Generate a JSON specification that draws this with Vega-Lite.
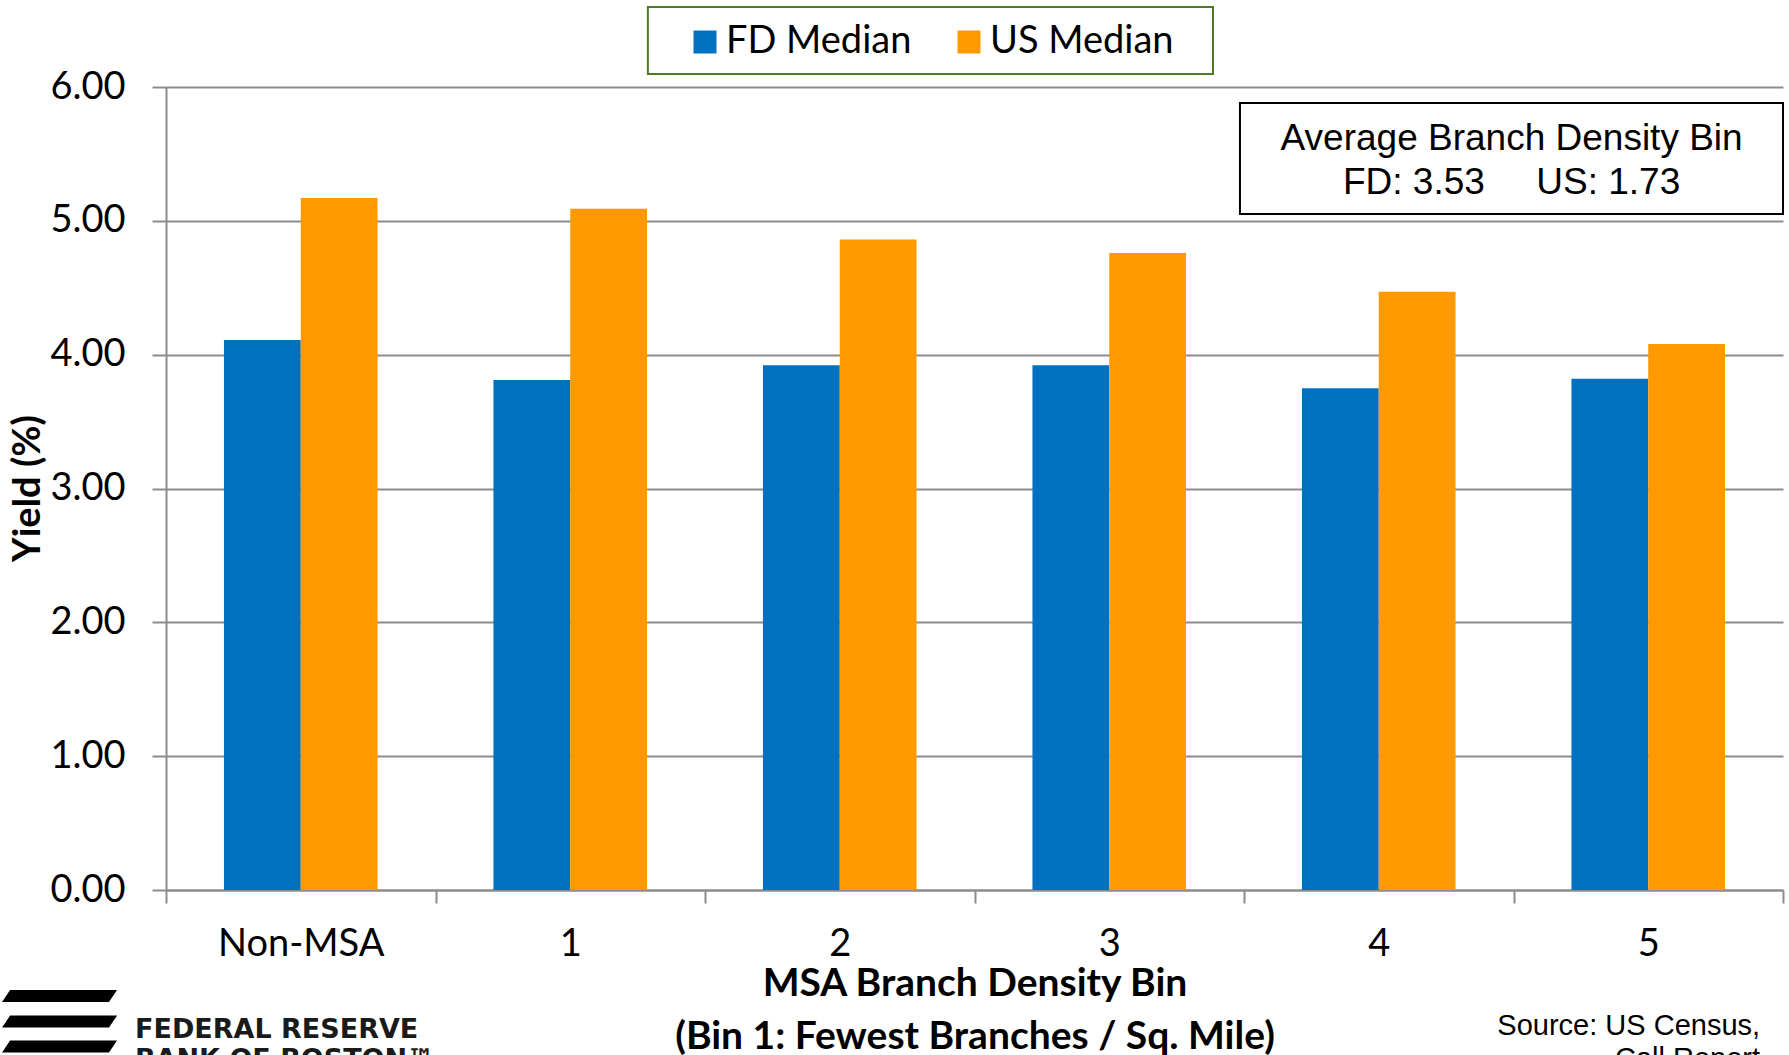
{
  "$schema": "https://vega.github.io/schema/vega-lite/v6.json",
  "width": 1617,
  "height": 803,
  "autosize": {"type": "none"},
  "padding": {"left": 166, "top": 87, "right": 6, "bottom": 165},
  "background": "white",
  "config": {"view": {"stroke": null}, "font": "Lato"},
  "resolve": {
    "scale": {"x": "independent", "y": "independent"},
    "axis": {"x": "independent", "y": "independent"}
  },
  "layer": [
    {
      "data": {
        "values": [
          {"bin": "Non-MSA", "series": "FD Median", "value": 4.11},
          {"bin": "Non-MSA", "series": "US Median", "value": 5.17},
          {"bin": "1", "series": "FD Median", "value": 3.81},
          {"bin": "1", "series": "US Median", "value": 5.09},
          {"bin": "2", "series": "FD Median", "value": 3.92},
          {"bin": "2", "series": "US Median", "value": 4.86},
          {"bin": "3", "series": "FD Median", "value": 3.92},
          {"bin": "3", "series": "US Median", "value": 4.76},
          {"bin": "4", "series": "FD Median", "value": 3.75},
          {"bin": "4", "series": "US Median", "value": 4.47},
          {"bin": "5", "series": "FD Median", "value": 3.82},
          {"bin": "5", "series": "US Median", "value": 4.08}
        ]
      },
      "mark": {"type": "bar", "stroke": null},
      "encoding": {
        "x": {
          "field": "bin",
          "type": "nominal",
          "sort": ["Non-MSA", "1", "2", "3", "4", "5"],
          "scale": {"paddingInner": 0, "paddingOuter": 0},
          "axis": {
            "title": ["MSA Branch Density Bin", "(Bin 1: Fewest Branches / Sq. Mile)"],
            "titleFont": "Lato",
            "titleFontWeight": "bold",
            "titleFontSize": 39,
            "titleColor": "black",
            "titleLineHeight": 53,
            "titleBaseline": "middle",
            "titleY": 93,
            "labelAngle": 0,
            "labelFont": "Lato",
            "labelFontSize": 38,
            "labelColor": "black",
            "labelBaseline": "middle",
            "labelPadding": 41,
            "tickBand": "extent",
            "tickSize": 13,
            "tickColor": "#8c8c8c",
            "tickWidth": 2,
            "domainColor": "#8c8c8c",
            "domainWidth": 2,
            "grid": false
          }
        },
        "xOffset": {
          "field": "series",
          "type": "nominal",
          "scale": {"paddingInner": 0, "paddingOuter": 0.7546}
        },
        "y": {
          "field": "value",
          "type": "quantitative",
          "scale": {"domain": [0, 6], "nice": false},
          "axis": {
            "title": "Yield (%)",
            "titleFont": "Lato",
            "titleFontWeight": "bold",
            "titleFontSize": 38,
            "titleColor": "black",
            "titleX": -138,
            "titleY": 401,
            "titleBaseline": "middle",
            "titleAngle": 270,
            "values": [0, 1, 2, 3, 4, 5, 6],
            "format": ".2f",
            "labelFont": "Lato",
            "labelFontSize": 38,
            "labelColor": "black",
            "labelPadding": 27,
            "labelFlush": false,
            "tickSize": 14,
            "tickColor": "#8c8c8c",
            "tickWidth": 2,
            "domainColor": "#8c8c8c",
            "domainWidth": 2,
            "grid": true,
            "gridColor": "#8c8c8c",
            "gridWidth": 2
          }
        },
        "color": {
          "field": "series",
          "type": "nominal",
          "scale": {"domain": ["FD Median", "US Median"], "range": ["#0070C0", "#FF9900"]},
          "legend": {
            "orient": "none",
            "legendX": 520,
            "legendY": -64,
            "direction": "horizontal",
            "title": null,
            "symbolType": "square",
            "symbolSize": 529,
            "symbolStrokeWidth": 0,
            "symbolOpacity": 1,
            "labelFont": "Lato",
            "labelFontSize": 38,
            "labelColor": "black",
            "labelOffset": 2,
            "labelLimit": 400,
            "columnPadding": 38,
            "padding": 0
          }
        }
      }
    },
    {
      "data": {"values": [{}]},
      "mark": {"type": "rect", "fill": "none", "stroke": "#4F7A28", "strokeWidth": 2},
      "encoding": {
        "x": {"datum": 1.788, "type": "quantitative", "scale": {"domain": [0, 6], "nice": false, "zero": false}, "axis": null},
        "x2": {"datum": 3.885},
        "y": {"datum": 6.598, "type": "quantitative", "scale": {"domain": [0, 6], "nice": false, "zero": false}, "axis": null},
        "y2": {"datum": 6.097}
      }
    },
    {
      "data": {"values": [{}]},
      "mark": {"type": "rect", "fill": "white", "stroke": "black", "strokeWidth": 2},
      "encoding": {
        "x": {"datum": 3.985, "type": "quantitative", "scale": {"domain": [0, 6], "nice": false, "zero": false}, "axis": null},
        "x2": {"datum": 6.0},
        "y": {"datum": 5.881, "type": "quantitative", "scale": {"domain": [0, 6], "nice": false, "zero": false}, "axis": null},
        "y2": {"datum": 5.051}
      }
    },
    {
      "data": {"values": [{}]},
      "mark": {"type": "text", "font": "Liberation Sans", "fontSize": 37, "color": "black", "align": "center", "baseline": "middle"},
      "encoding": {
        "x": {"datum": 4.993, "type": "quantitative", "scale": {"domain": [0, 6], "nice": false, "zero": false}, "axis": null},
        "y": {"datum": 5.613, "type": "quantitative", "scale": {"domain": [0, 6], "nice": false, "zero": false}, "axis": null},
        "text": {"value": "Average Branch Density Bin"}
      }
    },
    {
      "data": {"values": [{}]},
      "mark": {"type": "text", "font": "Liberation Sans", "fontSize": 37, "color": "black", "align": "center", "baseline": "middle"},
      "encoding": {
        "x": {"datum": 4.993, "type": "quantitative", "scale": {"domain": [0, 6], "nice": false, "zero": false}, "axis": null},
        "y": {"datum": 5.283, "type": "quantitative", "scale": {"domain": [0, 6], "nice": false, "zero": false}, "axis": null},
        "text": {"value": "FD: 3.53\u00a0\u00a0\u00a0\u00a0\u00a0US: 1.73"}
      }
    },
    {
      "data": {"values": [{}]},
      "mark": {"type": "text", "font": "Liberation Sans", "fontSize": 29, "color": "black", "align": "right", "baseline": "alphabetic", "lineHeight": 33},
      "encoding": {
        "x": {"datum": 5.915, "type": "quantitative", "scale": {"domain": [0, 6], "nice": false, "zero": false}, "axis": null},
        "y": {"datum": -1.0865, "type": "quantitative", "scale": {"domain": [0, 6], "nice": false, "zero": false}, "axis": null},
        "text": {"value": ["Source: US Census,", "Call Report"]}
      }
    },
    {
      "data": {"values": [{}]},
      "mark": {"type": "point", "shape": "M -1 0.104 L -0.86 -0.104 L 1 -0.104 L 0.86 0.104 Z", "size": 13225, "filled": true, "color": "black", "opacity": 1, "strokeWidth": 0},
      "encoding": {
        "x": {"datum": -0.395, "type": "quantitative", "scale": {"domain": [0, 6], "nice": false, "zero": false}, "axis": null},
        "y": {"datum": -0.792, "type": "quantitative", "scale": {"domain": [0, 6], "nice": false, "zero": false}, "axis": null}
      }
    },
    {
      "data": {"values": [{}]},
      "mark": {"type": "point", "shape": "M -1 0.104 L -0.86 -0.104 L 1 -0.104 L 0.86 0.104 Z", "size": 13225, "filled": true, "color": "black", "opacity": 1, "strokeWidth": 0},
      "encoding": {
        "x": {"datum": -0.395, "type": "quantitative", "scale": {"domain": [0, 6], "nice": false, "zero": false}, "axis": null},
        "y": {"datum": -0.983, "type": "quantitative", "scale": {"domain": [0, 6], "nice": false, "zero": false}, "axis": null}
      }
    },
    {
      "data": {"values": [{}]},
      "mark": {"type": "point", "shape": "M -1 0.104 L -0.86 -0.104 L 1 -0.104 L 0.86 0.104 Z", "size": 13225, "filled": true, "color": "black", "opacity": 1, "strokeWidth": 0},
      "encoding": {
        "x": {"datum": -0.395, "type": "quantitative", "scale": {"domain": [0, 6], "nice": false, "zero": false}, "axis": null},
        "y": {"datum": -1.170, "type": "quantitative", "scale": {"domain": [0, 6], "nice": false, "zero": false}, "axis": null}
      }
    },
    {
      "data": {"values": [{}]},
      "mark": {"type": "text", "font": "DejaVu Sans", "fontWeight": "bold", "fontSize": 27, "color": "#1a1a1a", "align": "left", "baseline": "alphabetic", "lineHeight": 30},
      "encoding": {
        "x": {"datum": -0.115, "type": "quantitative", "scale": {"domain": [0, 6], "nice": false, "zero": false}, "axis": null},
        "y": {"datum": -1.106, "type": "quantitative", "scale": {"domain": [0, 6], "nice": false, "zero": false}, "axis": null},
        "text": {"value": ["FEDERAL RESERVE", "BANK OF BOSTON™"]}
      }
    }
  ]
}
